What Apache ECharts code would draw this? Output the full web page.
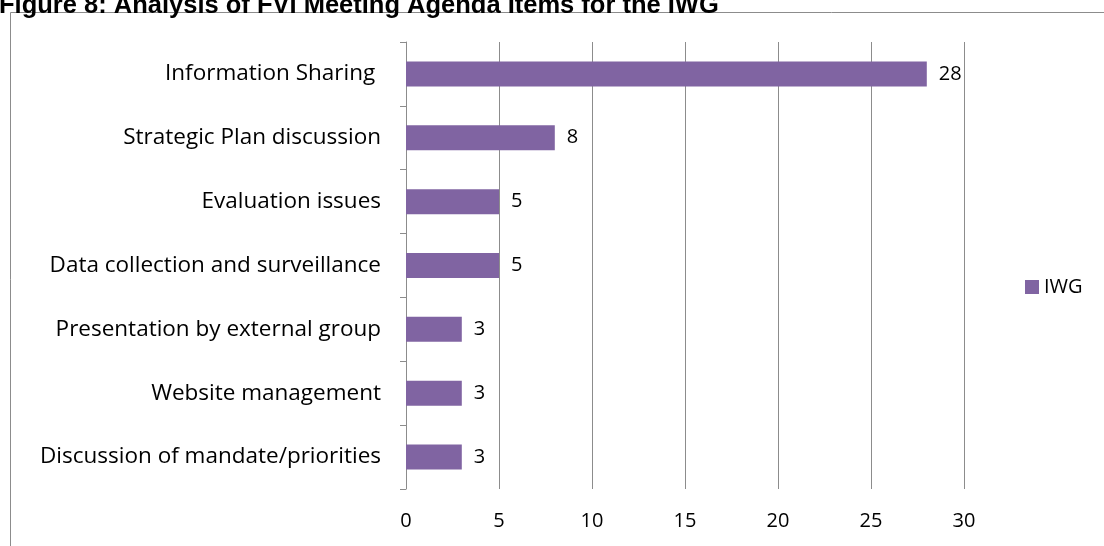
<!DOCTYPE html>
<html>
<head>
<meta charset="utf-8">
<script src="https://cdn.jsdelivr.net/npm/echarts@6/dist/echarts.min.js"></script>
<style>
html,body{margin:0;padding:0;background:#fff;}
#chart{width:1104px;height:546px;}
</style>
</head>
<body>
<div id="chart"></div>
<script>
const categories = [
  "Information Sharing ",
  "Strategic Plan discussion",
  "Evaluation issues",
  "Data collection and surveillance",
  "Presentation by external group",
  "Website management",
  "Discussion of mandate/priorities"
];
const iwgValues = [28, 8, 5, 5, 3, 3, 3];
const seriesName = "IWG";
const xTicks = { min: 0, max: 30, interval: 5 };
const titleText = "Figure 8: Analysis of FVI Meeting Agenda Items for the IWG";

const chart = echarts.init(document.getElementById('chart'));
const labelFont = "'Open Sans', 'Noto Sans', sans-serif";
chart.setOption({
  animation: false,
  backgroundColor: '#fff',
  graphic: [
    {
      type: 'rect',
      shape: { x: 10.5, y: 12.5, width: 1200, height: 700 },
      style: { fill: 'none', stroke: '#8c8c8c', lineWidth: 1 },
      silent: true
    },
    {
      type: 'text',
      left: -1,
      top: -7,
      style: {
        text: titleText,
        font: "bold 25.5px 'Liberation Sans', Arial, sans-serif",
        fill: '#000'
      },
      silent: true
    }
  ],
  legend: {
    data: [seriesName],
    left: 1020,
    top: 272,
    orient: 'vertical',
    icon: 'rect',
    itemWidth: 14,
    itemHeight: 14,
    itemGap: 6,
    textStyle: { fontFamily: labelFont, fontSize: 20, color: '#000' }
  },
  grid: { left: 406, right: 140, top: 42, bottom: 57, containLabel: false },
  xAxis: {
    type: 'value',
    min: xTicks.min,
    max: xTicks.max,
    interval: xTicks.interval,
    axisLine: { show: false },
    axisTick: { show: false },
    axisLabel: { margin: 22, fontFamily: labelFont, fontSize: 20, color: '#000' },
    splitLine: { show: true, lineStyle: { color: '#8c8c8c', width: 1 } }
  },
  yAxis: {
    type: 'category',
    data: categories,
    inverse: true,
    axisLine: { show: true, lineStyle: { color: '#8c8c8c', width: 1 } },
    axisTick: { show: true, length: 6, lineStyle: { color: '#8c8c8c' } },
    axisLabel: { margin: 25, fontFamily: labelFont, fontSize: 22.5, color: '#000' }
  },
  series: [{
    name: seriesName,
    type: 'bar',
    data: iwgValues,
    barWidth: 25,
    itemStyle: { color: '#8064A2' },
    label: {
      show: true,
      position: 'right',
      distance: 12,
      fontFamily: labelFont,
      fontSize: 20,
      color: '#000'
    }
  }]
});
</script>
</body>
</html>
